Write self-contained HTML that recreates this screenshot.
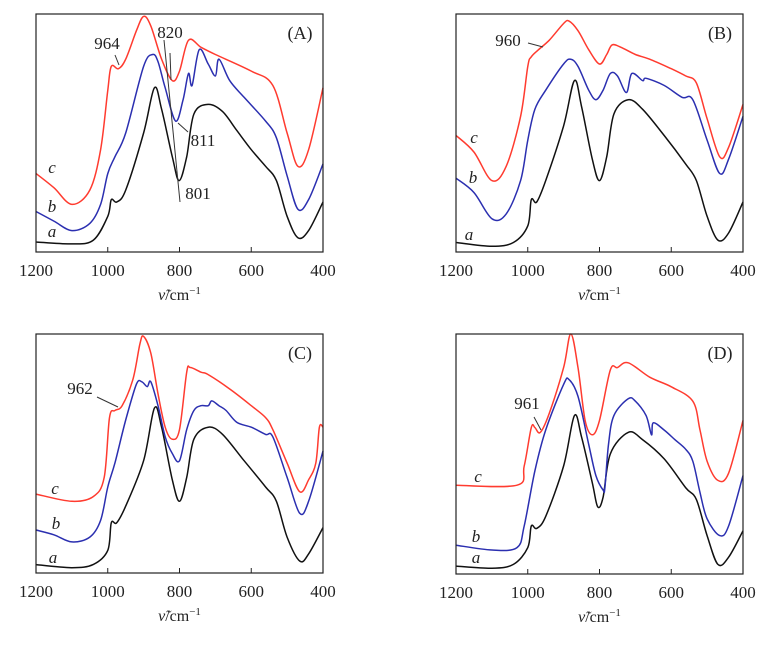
<!DOCTYPE html>
<html><head><meta charset="utf-8"><style>
html,body{margin:0;padding:0;background:#fff;}
svg{display:block;font-family:"Liberation Serif",serif;}
</style></head><body>
<svg id="chart" width="772" height="649" viewBox="0 0 772 649"></svg>
<script>
// Data: [wavenumber, relative transmittance (0-100 of panel height)]
const panelTitles = ["(A)", "(B)", "(C)", "(D)"];
const xTicks = [1200, 1000, 800, 600, 400];
const seriesNames = ["a", "b", "c"];
const seriesColors = ["#111", "#2b2fb0", "#ff3b2f"];

const A_a = [[1200,4.2],[1100,3.4],[1040,5],[1000,15],[990,22],[975,21],[950,26],[900,50],[870,69],[850,60],[820,40],[801,30],[780,40],[760,58],[720,62],[680,59],[640,51],[600,43],[560,36],[530,30],[500,15],[470,6],[440,9],[400,21]];
const A_b = [[1200,17],[1150,13],[1100,9],[1050,12],[1020,20],[1000,33],[980,40],[950,50],[900,78],[875,83],[860,80],[840,69],[811,55],[790,64],[775,75],[765,70],[745,85],[720,79],[700,74],[690,81],[660,72],[620,65],[560,55],[530,48],[500,32],[470,18],[440,22],[400,37]];
const A_c = [[1200,33],[1150,27],[1100,20],[1050,26],[1020,43],[1000,68],[990,78],[970,77],[950,81],[920,93],[900,99],[880,95],[850,81],[820,72],[800,76],[775,89],[740,86],[700,83],[600,76],[540,70],[500,50],[470,36],[440,43],[400,69]];

const B_a = [[1200,4],[1100,2.4],[1040,4],[1000,11],[990,22],[975,21],[950,30],[900,53],[870,72],[850,61],[820,39],[800,30],[780,40],[760,58],[720,64],[680,60],[620,49],[560,37],[530,30],[500,15],[470,5],[440,8],[400,21]];
const B_b = [[1200,31],[1150,25],[1100,14],[1060,16],[1020,30],[1000,47],[980,60],[950,68],[900,79],[880,81],[860,78],[830,68],[810,64],[790,68],[770,75],[750,74],[725,67],[710,75],[680,72],[670,73],[620,70],[570,65],[540,64],[500,47],[465,33],[440,39],[400,57]];
const B_c = [[1200,49],[1150,42],[1100,30],[1060,36],[1020,57],[1000,78],[990,82],[970,85],[940,89],[900,96],[885,97],[860,93],[830,85],[800,79],[780,83],[765,87],[740,86],[700,83],[660,81],[600,77],[560,74],[530,71],[500,56],[465,40],[440,44],[400,62]];

const C_a = [[1200,3.5],[1100,2.2],[1040,3.6],[1000,9.5],[990,21],[975,21],[950,28],[900,47],[870,69],[850,61],[820,39],[800,30],[780,40],[760,56],[720,61],[680,58],[620,47],[560,36],[530,30],[500,15],[465,5],[440,8],[400,19]];
const C_b = [[1200,18],[1150,16],[1100,13],[1050,15],[1020,22],[1000,36],[980,46],[950,64],[920,79],[905,80],[890,78],[880,80],[860,70],[840,57],[820,50],[800,47],[780,60],[760,68],[740,70],[720,70],[710,72],[690,70],[670,68],[640,63],[600,61],[560,58],[540,57],[500,40],[465,25],[440,30],[400,51]];
const C_c = [[1200,33],[1100,30],[1040,32],[1010,40],[995,65],[980,68],[960,70],[930,81],[910,96],[900,99],[880,92],[860,75],[840,61],[820,56],[800,60],[780,84],[770,86],[740,84],[720,83],[660,77],[600,70],[560,65],[540,60],[500,46],[465,34],[440,39],[420,46],[410,61],[400,61]];

const D_a = [[1200,3.3],[1100,2.4],[1040,4],[1000,11],[990,20],[975,19],[950,24],[900,45],[870,66],[850,57],[820,38],[805,28],[790,32],[770,50],[720,59],[680,56],[620,48],[560,36],[530,31],[500,16],[470,4],[440,7],[400,18]];
const D_b = [[1200,12],[1100,10],[1030,11],[1010,20],[980,43],[950,60],[900,79],[885,81],[860,74],[830,54],[810,41],[790,35],[785,36],[775,54],[760,66],[720,73],[700,72],[670,66],[655,58],[650,63],[620,60],[590,56],[560,52],[540,47],[520,34],[500,23],[465,16],[440,20],[400,41]];
const D_c = [[1200,37],[1030,37],[1010,45],[990,61],[980,61],[965,59],[940,67],[900,86],[880,100],[860,86],[840,64],[820,58],[800,64],[770,85],[750,86],[720,88],[660,82],[600,78],[540,72],[520,60],[500,47],[470,39],[440,42],[400,64]];

const panelSeries = [[A_a,A_b,A_c],[B_a,B_b,B_c],[C_a,C_b,C_c],[D_a,D_b,D_c]];
const panelBoxes = [{x:36,y:14,w:287,h:238},{x:456,y:14,w:287,h:238},{x:36,y:334,w:287,h:239},{x:456,y:334,w:287,h:240}];
const curveLabelPos = [[[52,232],[52,207],[52,168]],[[469,235],[473,178],[474,138]],[[53,558],[56,524],[55,489]],[[476,558],[476,537],[478,477]]];

const NS = "http://www.w3.org/2000/svg";
const svg = document.getElementById("chart");
function mk(tag, attrs, parent){ const e=document.createElementNS(NS,tag); for(const k in attrs) e.setAttribute(k,attrs[k]); (parent||svg).appendChild(e); return e; }

function smoothPath(pts){
  let d = "M"+pts[0][0].toFixed(1)+","+pts[0][1].toFixed(1);
  for(let i=0;i<pts.length-1;i++){
    const p0=pts[i-1]||pts[i], p1=pts[i], p2=pts[i+1], p3=pts[i+2]||p2;
    const c1=[p1[0]+(p2[0]-p0[0])/6, p1[1]+(p2[1]-p0[1])/6];
    const c2=[p2[0]-(p3[0]-p1[0])/6, p2[1]-(p3[1]-p1[1])/6];
    d+=" C"+c1[0].toFixed(1)+","+c1[1].toFixed(1)+" "+c2[0].toFixed(1)+","+c2[1].toFixed(1)+" "+p2[0].toFixed(1)+","+p2[1].toFixed(1);
  }
  return d;
}

panelBoxes.forEach((b,pi)=>{
  const g = mk("g",{});
  
  
  const xs = w => b.x + (1200 - w)/800*b.w;
  const ys = v => b.y + b.h - v/100*b.h;
  panelSeries[pi].forEach((ser,si)=>{
    const p = mk("path",{d:smoothPath(ser.map(q=>[xs(q[0]),ys(q[1])])),fill:"none",stroke:seriesColors[si],"stroke-width":1.5,"stroke-linejoin":"round"},g);
    
    
    const lp = curveLabelPos[pi][si];
    const t = mk("text",{x:lp[0],y:lp[1]+5,"font-size":17,"font-style":"italic","text-anchor":"middle",fill:"#222"},g);
    t.textContent = seriesNames[si];
    
    
  });
  const fr = mk("rect",{x:b.x,y:b.y,width:b.w,height:b.h,fill:"none",stroke:"#222","stroke-width":1.2},g);
  
  
  xTicks.forEach(tv=>{
    const x = xs(tv);
    const tk = mk("line",{x1:x,x2:x,y1:b.y+b.h,y2:b.y+b.h-5,stroke:"#222","stroke-width":1},g);
    
    
    const tl = mk("text",{x:x,y:b.y+b.h+24,"font-size":17,"text-anchor":"middle",fill:"#222"},g);
    tl.textContent = tv;
    
    
  });
  const at = mk("text",{x:b.x+b.w/2,y:b.y+b.h+48,"font-size":16,"text-anchor":"middle",fill:"#222"},g);
  at.innerHTML = '<tspan font-style="italic">ν̃</tspan>/cm<tspan dy="-6" font-size="11">−1</tspan>';
  
  
  const pt = mk("text",{x:b.x+b.w-23,y:b.y+25,"font-size":18,"text-anchor":"middle",fill:"#222"},g);
  pt.textContent = panelTitles[pi];
  
  
});

// annotations
const ann = [
  {t:"964",x:107,y:49,l:[[115,55],[119,65]]},
  {t:"820",x:170,y:38,l:[[164,40],[180,202]]},
  {t:"",x:0,y:0,l:[[170,53],[171,80]]},
  {t:"811",x:203,y:146,l:[[178,123],[188,132]]},
  {t:"801",x:198,y:199,l:[]},
  {t:"960",x:508,y:46,l:[[528,43],[543,47]]},
  {t:"962",x:80,y:394,l:[[97,397],[118,407]]},
  {t:"961",x:527,y:409,l:[[534,417],[541,430]]}
];
ann.forEach(a=>{
  if(a.t){
    const t = mk("text",{x:a.x,y:a.y,"font-size":17,"text-anchor":"middle",fill:"#222"});
    t.textContent = a.t;
    
    
  }
  if(a.l.length){
    const ln = mk("line",{x1:a.l[0][0],y1:a.l[0][1],x2:a.l[1][0],y2:a.l[1][1],stroke:"#333","stroke-width":1});
    
    
  }
});
</script>
</body></html>
